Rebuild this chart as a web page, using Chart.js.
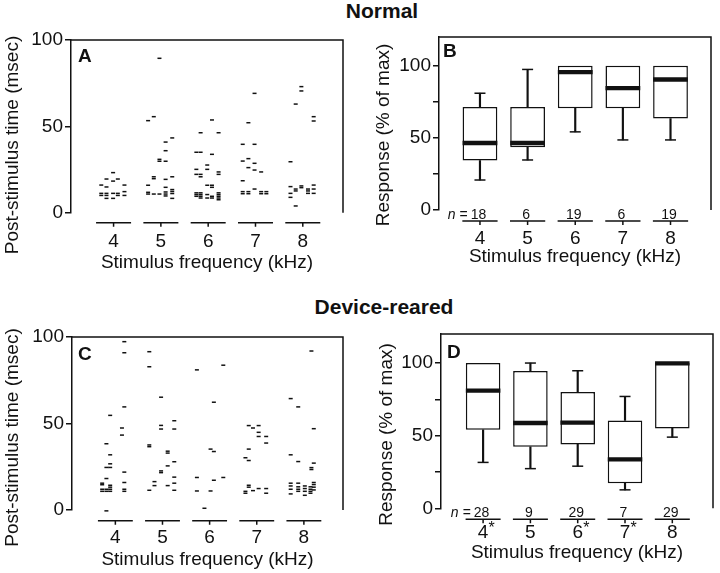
<!DOCTYPE html>
<html>
<head>
<meta charset="utf-8">
<script src="https://cdn.jsdelivr.net/npm/chart.js@4.4.0/dist/chart.umd.min.js"></script>
<style>
  body { margin: 0; background: #fff; }
  #page { position: relative; width: 720px; height: 573px; overflow: hidden; background: #fff;
          font-family: "Liberation Sans", Arial, sans-serif; color: #111; }
  #page canvas { position: absolute; }
  .head { position: absolute; width: 200px; text-align: center; font-weight: bold;
          font-size: 21px; line-height: 21px; }
</style>
</head>
<body>
<div id="page">
  <div class="head" style="left:282px; top:0px;">Normal</div>
  <div class="head" style="left:284px; top:296px;">Device-reared</div>
  <canvas id="panelA" width="360" height="250" style="left:0; top:30px;"></canvas>
  <canvas id="panelB" width="360" height="250" style="left:360px; top:30px;"></canvas>
  <canvas id="panelC" width="360" height="257" style="left:0; top:316px;"></canvas>
  <canvas id="panelD" width="360" height="257" style="left:360px; top:316px;"></canvas>
</div>
<script>
// ─── DATA ───
const freqs = [4, 5, 6, 7, 8];
const tickLabels = ['4', '5', '6', '7', '8'];
const deviceStarred = [true, false, true, true, false];
const latencyTicks = [0, 50, 100];
const responseTicks = [0, 25, 50, 75, 100];
const responseLabels = [0, 50, 100];

// spike latencies, [position on kHz axis, msec]
const normal4 = [[3.74,16],[3.74,11.2],[3.74,10],[3.85,19.5],[3.85,14.9],[3.85,11.2],[3.85,10],[3.85,8.3],
  [3.99,23.2],[3.99,18.3],[3.99,11.2],[3.99,8.3],[4.09,19.5],[4.09,11.2],[4.09,10],[4.23,16],[4.23,12.2],[4.23,10]];
const normal5 = [[4.97,89.4],[4.85,55.6],[4.73,53.3],[5.24,43.3],[5.10,40.9],[5.10,35.9],[4.97,30.9],[4.97,29.8],
  [5.10,29.8],[4.85,20.8],[4.85,19.7],[5.24,20.8],[5.10,19.3],[4.73,15.9],[5.10,14.7],[4.73,11.8],[4.73,10.8],
  [4.85,10.8],[4.97,10.8],[5.10,12.0],[5.10,10.8],[5.10,9.7],[5.24,13.4],[5.24,12.3],[5.24,11.1],[5.24,8.3]];
const normal6 = [[6.08,53.7],[5.84,46.3],[6.22,46.3],[5.75,35.0],[5.84,35.0],[6.08,33.8],[5.98,27.6],[5.75,25.1],
  [5.98,25.1],[5.75,22.2],[5.84,22.2],[5.84,20.8],[6.22,23.6],[6.22,22.2],[5.98,15.9],[6.08,15.9],[6.08,14.7],
  [5.75,11.5],[5.75,10.5],[5.75,9.5],[5.84,11.5],[5.84,10.5],[5.84,9.5],[5.84,8.5],[5.98,10.5],[5.98,8.5],
  [6.08,9.5],[6.08,8.5],[6.22,11.5],[6.22,10.5],[6.22,9.5],[6.22,8.5],[6.22,7.5]];
const normal7 = [[6.98,69.1],[6.85,52.1],[6.73,39.6],[6.98,39.6],[6.73,29.9],[6.85,31.3],[6.98,28.6],[6.85,26.1],
  [6.98,24.7],[7.12,23.6],[6.73,18.5],[6.98,13.7],[6.73,12.2],[6.73,11.0],[6.85,12.2],[6.85,11.0],[7.12,12.2],
  [7.12,11.0],[7.23,12.2],[7.23,11.0]];
const normal8 = [[7.97,73.0],[7.97,70.5],[7.85,62.9],[8.23,55.6],[8.23,53.1],[7.74,29.5],[7.74,15.1],[7.85,13.7],
  [7.85,12.6],[7.97,15.5],[7.97,14.5],[7.74,11.2],[7.74,8.9],[7.85,3.9],[8.11,13.7],[8.11,12.6],[8.11,11.2],
  [8.23,16.0],[8.23,13.7],[8.23,11.2]];

const device4 = [[4.19,97.3],[4.19,90.9],[4.19,59.6],[3.89,54.7],[4.14,47.4],[4.14,43.3],[3.81,38.3],[3.89,31.9],
  [3.89,26.7],[3.81,24.6],[3.89,24.6],[3.81,18.2],[3.72,15.5],[3.72,14.6],[3.89,14.3],[3.89,13.2],[3.72,12.0],
  [3.72,10.8],[3.81,12.0],[3.81,10.8],[3.89,12.0],[3.89,10.8],[4.19,21.9],[4.19,15.9],[4.19,12.0],[4.19,10.8],[3.81,-0.5]];
const device5 = [[4.72,91.5],[4.72,82.8],[4.97,65.2],[4.97,48.9],[4.97,46.8],[5.25,51.6],[5.25,46.8],[4.72,37.6],
  [4.72,36.6],[5.11,34.0],[5.11,32.9],[5.11,25.5],[5.25,27.9],[4.97,22.6],[4.97,21.6],[5.25,19.0],[5.25,15.5],
  [4.83,16.4],[4.83,14.1],[5.11,14.1],[4.72,11.4],[5.25,11.4]];
const device6 = [[5.73,81.0],[6.29,83.7],[6.09,62.3],[6.02,35.2],[6.09,33.8],[5.73,18.8],[6.29,18.8],[6.09,17.2],
  [5.73,11.0],[6.02,11.0],[5.89,1.0]];
const device7 = [[6.83,48.8],[6.92,47.4],[7.04,48.8],[7.04,44.9],[7.04,42.5],[7.20,42.5],[7.20,38.7],[6.83,35.2],
  [6.76,30.2],[6.83,28.6],[6.83,14.3],[6.83,13.2],[6.76,10.8],[6.76,9.7],[6.92,11.2],[7.04,12.4],[7.20,12.4],[7.20,9.7]];
const device8 = [[8.16,91.9],[7.72,64.4],[7.88,59.6],[8.21,47.0],[7.72,31.9],[7.88,28.0],[8.21,27.1],[8.16,24.5],
  [8.16,23.4],[7.72,15.5],[7.72,13.9],[7.72,12.0],[7.72,9.3],[7.88,15.5],[7.88,13.4],[7.88,12.0],[7.88,10.8],
  [8.02,13.9],[8.02,12.4],[8.02,10.8],[8.02,8.5],[8.14,13.4],[8.14,12.0],[8.14,10.8],[8.14,9.7],[8.21,15.9],
  [8.21,14.7],[8.21,13.2],[8.21,11.6]];

// response boxes (% of max)
const normalMin    = [20.8, 34.7, 54.2, 48.6, 48.6];
const normalQ1     = [34.3, 43.5, 70.6, 70.6, 63.4];
const normalMedian = [46.5, 46.5, 95.6, 84.5, 90.5];
const normalQ3     = [71.5, 71.5, 100, 100, 100];
const normalMax    = [81, 97.5, 100, 100, 100];
const normalN      = [18, 6, 19, 6, 19];

const deviceMin    = [31.6, 27.3, 29, 12.7, 49];
const deviceQ1     = [54, 42.3, 44, 17.3, 55];
const deviceMedian = [81, 58.7, 59, 33.7, 99.8];
const deviceQ3     = [100, 94.5, 80, 60.5, 100];
const deviceMax    = [100, 100, 94.7, 77, 100];
const deviceN      = [28, 9, 29, 7, 29];

// ─── STYLE ───
const ink = '#111';
const family = '"Liberation Sans", Arial, sans-serif';
Chart.defaults.font.family = family;
Chart.defaults.color = ink;

// ─── FRAME, LETTERS, TITLES, GROUP UNDERLINES ───
const panelExtras = {
  id: 'panelExtras',
  afterDraw(chart, args, o) {
    const { ctx, chartArea: a } = chart;
    const x = chart.scales.x;
    ctx.save();
    ctx.strokeStyle = ink;
    ctx.fillStyle = ink;
    ctx.lineWidth = 1.5;
    ctx.beginPath();
    ctx.moveTo(a.left, a.top);
    ctx.lineTo(a.right, a.top);
    ctx.lineTo(a.right, a.bottom);
    ctx.stroke();

    freqs.forEach(f => {
      const xc = x.getPixelForValue(f);
      ctx.beginPath();
      ctx.moveTo(x.getPixelForValue(f - 0.37), o.underY);
      ctx.lineTo(x.getPixelForValue(f + 0.37), o.underY);
      ctx.moveTo(xc, o.underY);
      ctx.lineTo(xc, o.underY + 4);
      ctx.stroke();
    });

    if (o.counts) {
      ctx.textBaseline = 'alphabetic';
      o.counts.forEach((n, i) => {
        const xc = x.getPixelForValue(freqs[i]) - 1.5;
        ctx.font = '14px ' + family;
        ctx.textAlign = 'center';
        ctx.fillText(String(n), xc, o.underY - 2);
        if (i === 0) {
          const left = xc - ctx.measureText(String(n)).width / 2;
          ctx.textAlign = 'right';
          ctx.fillText('=', left - 3, o.underY - 2);
          const eqW = ctx.measureText('=').width;
          ctx.font = 'italic 14px ' + family;
          ctx.fillText('n', left - 3 - eqW - 4, o.underY - 2);
        }
      });
    }

    // significance asterisks next to tick labels
    if (o.starred) {
      ctx.font = '16px ' + family;
      ctx.textAlign = 'left';
      ctx.textBaseline = 'top';
      o.starred.forEach((s, i) => {
        if (s) ctx.fillText('*', x.getPixelForValue(freqs[i]) + 5.5, o.starY);
      });
    }

    ctx.font = 'bold 19px ' + family;
    ctx.textAlign = 'left';
    ctx.textBaseline = 'alphabetic';
    ctx.fillText(o.letter, o.letterX, o.letterY);

    ctx.font = '19px ' + family;
    ctx.translate(o.yTitleX, o.yTitleY);
    ctx.rotate(-Math.PI / 2);
    ctx.textAlign = 'center';
    ctx.textBaseline = 'middle';
    ctx.fillText(o.yTitle, 0, 0);
    ctx.restore();
  }
};

function panelOptions(p) {
  return {
    responsive: false,
    animation: false,
    events: [],
    layout: { padding: { top: p.padTop, right: p.padRight, left: 0, bottom: 0 } },
    plugins: { legend: { display: false }, tooltip: { enabled: false }, panelExtras: p.extras },
    scales: {
      x: {
        type: 'linear', min: p.xMin, max: p.xMax, offset: false,
        afterFit: s => { s.height = p.xAxisH; s.paddingLeft = 0; s.paddingRight = 0; },
        afterBuildTicks: s => { s.ticks = freqs.map(v => ({ value: v })); },
        ticks: { padding: p.tickPad, autoSkip: false, maxRotation: 0, color: ink,
                 font: { size: 19 }, callback: (v, i) => tickLabels[i] },
        grid: { display: false, drawTicks: false, offset: false },
        border: { display: false },
        title: { display: true, text: 'Stimulus frequency (kHz)', color: ink,
                 font: { size: 19 }, padding: { top: 0, bottom: p.titlePad } }
      },
      y: {
        min: 0, max: p.yMax,
        afterFit: s => { s.width = p.yAxisW; s.paddingTop = 0; s.paddingBottom = 0; },
        afterBuildTicks: s => { s.ticks = p.yTicks.map(v => ({ value: v })); },
        ticks: { padding: 2, color: ink, font: { size: 19 },
                 callback: v => (p.yLabels.includes(v) ? String(v) : '') },
        grid: { display: true, drawOnChartArea: false, drawTicks: true, tickLength: 6,
                color: ink, lineWidth: 1.5 },
        border: { display: true, color: ink, width: 1.5 }
      }
    }
  };
}

// ─── SPIKE RASTER PANELS ───
function spikeChart(id, groups, p) {
  return new Chart(document.getElementById(id), {
    type: 'scatter',
    data: {
      datasets: groups.map(g => ({
        data: g.map(([x, y]) => ({ x, y })),
        pointStyle: 'line', pointRadius: 2, pointBorderWidth: 1.5,
        pointBorderColor: ink, pointBackgroundColor: ink, clip: false
      }))
    },
    options: panelOptions(p),
    plugins: [panelExtras]
  });
}

// ─── BOX PLOT PANELS ───
function boxChart(id, s, p) {
  const medians = freqs.map((f, i) => ({ x: f, y: [s.med[i] - 1.5, s.med[i] + 1.5] }));
  const boxes = freqs.map((f, i) => ({ x: f, y: [s.q1[i], s.q3[i]] }));
  const upper = freqs.map((f, i) => ({ x: f, y: [s.q3[i], s.max[i]] })).filter(d => d.y[1] > d.y[0]);
  const lower = freqs.map((f, i) => ({ x: f, y: [s.min[i], s.q1[i]] })).filter(d => d.y[1] > d.y[0]);
  const caps = upper.map(d => ({ x: d.x, y: d.y[1] })).concat(lower.map(d => ({ x: d.x, y: d.y[0] })));
  return new Chart(document.getElementById(id), {
    type: 'bar',
    data: {
      datasets: [
        { data: medians, grouped: false, backgroundColor: ink, borderWidth: 0,
          barPercentage: 0.73, categoryPercentage: 1 },
        { data: boxes, grouped: false, backgroundColor: '#fff', borderColor: ink, borderWidth: 1.5,
          borderSkipped: false, barPercentage: 0.73, categoryPercentage: 1 },
        { data: upper.concat(lower), grouped: false, backgroundColor: ink, borderWidth: 0, barThickness: 1.5 },
        { type: 'scatter', data: caps, pointStyle: 'line', pointRadius: 5.5, pointBorderWidth: 1.5,
          pointBorderColor: ink, clip: false }
      ]
    },
    options: panelOptions(p),
    plugins: [panelExtras]
  });
}

spikeChart('panelA', [normal4, normal5, normal6, normal7, normal8], {
  padTop: 10, padRight: 17, yAxisW: 71, xAxisH: 67.3, xMin: 3.10, xMax: 8.85, yMax: 100,
  yTicks: latencyTicks, yLabels: latencyTicks, tickPad: 17.5, titlePad: 5.6,
  extras: { letter: 'A', letterX: 78, letterY: 32.3, yTitle: 'Post-stimulus time (msec)',
            yTitleX: 12.5, yTitleY: 115, underY: 192.7 }
});

boxChart('panelB', { min: normalMin, q1: normalQ1, med: normalMedian, q3: normalQ3, max: normalMax }, {
  padTop: 7, padRight: 9, yAxisW: 79, xAxisH: 70, xMin: 3.14, xMax: 8.85, yMax: 120,
  yTicks: responseTicks, yLabels: responseLabels, tickPad: 17, titlePad: 12.1,
  extras: { letter: 'B', letterX: 83, letterY: 27.3, yTitle: 'Response (% of max)',
            yTitleX: 23.5, yTitleY: 105, underY: 191, counts: normalN }
});

spikeChart('panelC', [device4, device5, device6, device7, device8], {
  padTop: 21, padRight: 17, yAxisW: 72, xAxisH: 63, xMin: 3.08, xMax: 8.83, yMax: 100,
  yTicks: latencyTicks, yLabels: latencyTicks, tickPad: 16, titlePad: 1.6,
  extras: { letter: 'C', letterX: 78, letterY: 44, yTitle: 'Post-stimulus time (msec)',
            yTitleX: 12.5, yTitleY: 121.5, underY: 204.7 }
});

boxChart('panelD', { min: deviceMin, q1: deviceQ1, med: deviceMedian, q3: deviceQ3, max: deviceMax }, {
  padTop: 18, padRight: 6, yAxisW: 81, xAxisH: 64.7, xMin: 3.11, xMax: 8.86, yMax: 120,
  yTicks: responseTicks, yLabels: responseLabels, tickPad: 13, titlePad: 8.6,
  extras: { letter: 'D', letterX: 87, letterY: 42, yTitle: 'Response (% of max)',
            yTitleX: 26.5, yTitleY: 118.5, underY: 203.3, counts: deviceN,
            starred: deviceStarred, starY: 204.5 }
});
</script>
</body>
</html>
